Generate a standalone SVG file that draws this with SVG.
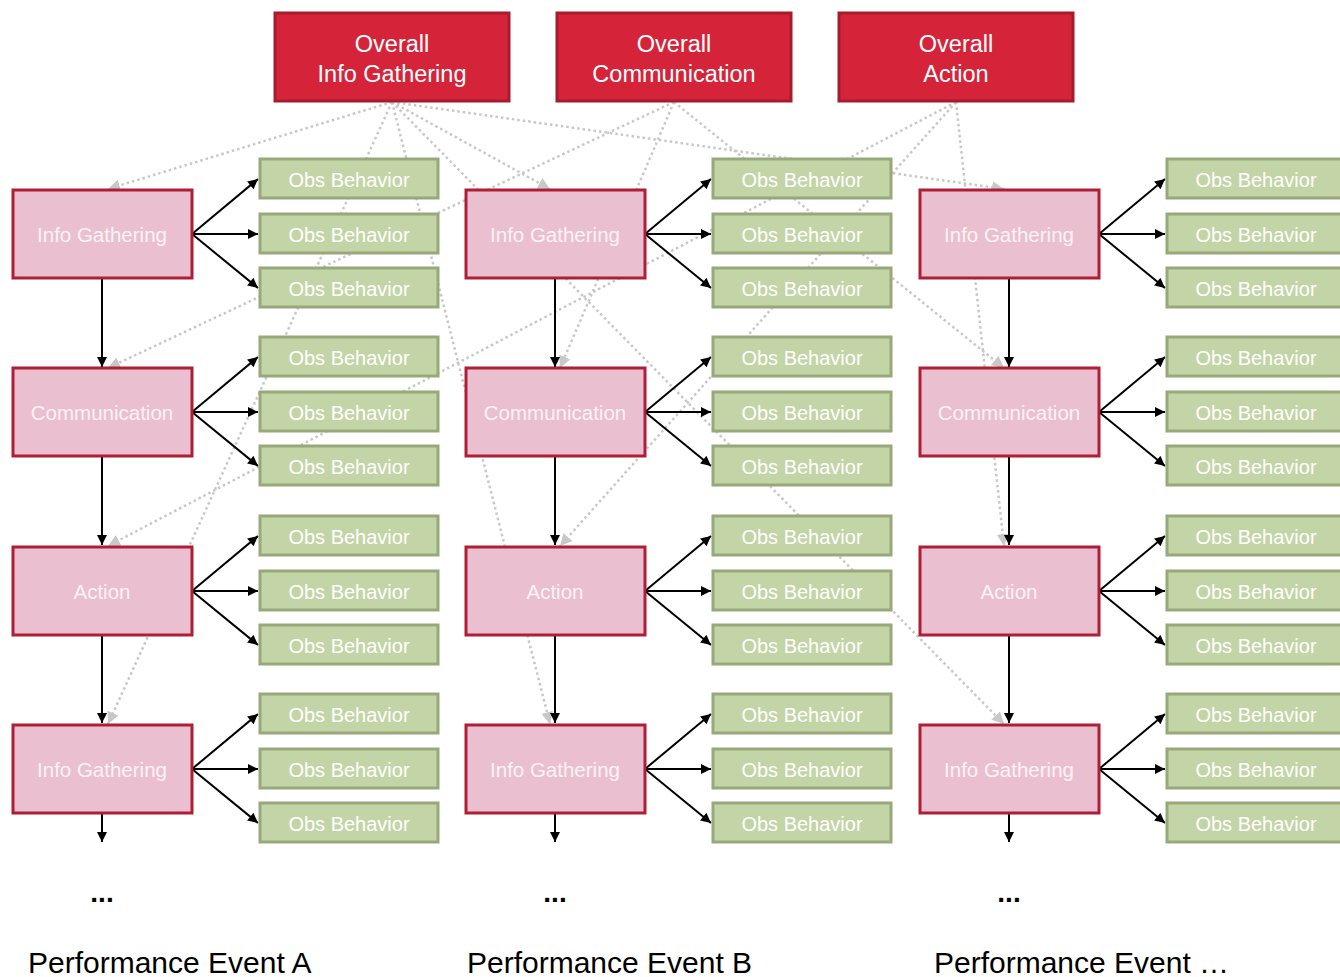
<svg xmlns="http://www.w3.org/2000/svg" width="1340" height="977" viewBox="0 0 1340 977">
<defs>
<style>
text{font-family:"Liberation Sans",Arial,sans-serif;text-anchor:middle}
.ov rect{fill:#d52439;stroke:#a81b2f;stroke-width:3}
.ov text{fill:#fff;font-size:23.5px}
.pk rect{fill:#eac0d0;stroke:#b01e35;stroke-width:3}
.pk text{fill:#fdf2f6;font-size:20.5px}
.gr rect{fill:#c3d5a6;stroke:#98a87a;stroke-width:3}
.gr text{fill:#fff;font-size:20px}
.dot{fill:none;stroke:#c8c8c8;stroke-width:2.5;stroke-dasharray:2.5 3;marker-end:url(#ga)}
.ar{fill:none;stroke:#000;stroke-width:2;marker-end:url(#ba)}
.lbl{fill:#000;font-size:30px;text-anchor:start}
.ell{fill:#000;font-size:28px;font-weight:bold}
</style>
<marker id="ga" viewBox="0 0 10 10" refX="10" refY="5" markerWidth="12" markerHeight="12" markerUnits="userSpaceOnUse" orient="auto"><path d="M0,0L10,5L0,10z" fill="#c8c8c8"/></marker>
<marker id="ba" viewBox="0 0 10 10" refX="10" refY="5" markerWidth="11" markerHeight="10" markerUnits="userSpaceOnUse" orient="auto"><path d="M0,0L10,5L0,10z" fill="#000"/></marker>
</defs>
<rect width="1340" height="977" fill="#fff"/>
<g id="connectors">
<path class="dot" d="M392,102L108,189"/>
<path class="dot" d="M392,102L550,189"/>
<path class="dot" d="M392,102L1004,189"/>
<path class="dot" d="M392,102L108,724"/>
<path class="dot" d="M392,102L550,724"/>
<path class="dot" d="M392,102L1004,724"/>
<path class="dot" d="M674,102L108,368"/>
<path class="dot" d="M674,102L560,368"/>
<path class="dot" d="M674,102L1004,368"/>
<path class="dot" d="M956,102L108,546"/>
<path class="dot" d="M956,102L560,546"/>
<path class="dot" d="M956,102L1004,546"/>
<path class="ar" d="M192,234L258,179"/><path class="ar" d="M192,234L258,234"/><path class="ar" d="M192,234L258,288"/>
<path class="ar" d="M192,412L258,357"/><path class="ar" d="M192,412L258,412"/><path class="ar" d="M192,412L258,466"/>
<path class="ar" d="M192,591L258,536"/><path class="ar" d="M192,591L258,591"/><path class="ar" d="M192,591L258,645"/>
<path class="ar" d="M192,769L258,714"/><path class="ar" d="M192,769L258,769"/><path class="ar" d="M192,769L258,823"/>
<path class="ar" d="M645,234L711,179"/><path class="ar" d="M645,234L711,234"/><path class="ar" d="M645,234L711,288"/>
<path class="ar" d="M645,412L711,357"/><path class="ar" d="M645,412L711,412"/><path class="ar" d="M645,412L711,466"/>
<path class="ar" d="M645,591L711,536"/><path class="ar" d="M645,591L711,591"/><path class="ar" d="M645,591L711,645"/>
<path class="ar" d="M645,769L711,714"/><path class="ar" d="M645,769L711,769"/><path class="ar" d="M645,769L711,823"/>
<path class="ar" d="M1099,234L1165,179"/><path class="ar" d="M1099,234L1165,234"/><path class="ar" d="M1099,234L1165,288"/>
<path class="ar" d="M1099,412L1165,357"/><path class="ar" d="M1099,412L1165,412"/><path class="ar" d="M1099,412L1165,466"/>
<path class="ar" d="M1099,591L1165,536"/><path class="ar" d="M1099,591L1165,591"/><path class="ar" d="M1099,591L1165,645"/>
<path class="ar" d="M1099,769L1165,714"/><path class="ar" d="M1099,769L1165,769"/><path class="ar" d="M1099,769L1165,823"/>
<path class="ar" d="M102,278L102,367"/><path class="ar" d="M102,457L102,545"/><path class="ar" d="M102,635L102,723"/><path class="ar" d="M102,813L102,842"/>
<path class="ar" d="M555,278L555,367"/><path class="ar" d="M555,457L555,545"/><path class="ar" d="M555,635L555,723"/><path class="ar" d="M555,813L555,842"/>
<path class="ar" d="M1009,278L1009,367"/><path class="ar" d="M1009,457L1009,545"/><path class="ar" d="M1009,635L1009,723"/><path class="ar" d="M1009,813L1009,842"/>
</g>
<g id="overall-info" class="ov"><rect x="275" y="13" width="234" height="88"/><text x="392" y="52">Overall</text><text x="392" y="82">Info Gathering</text></g>
<g id="overall-comm" class="ov"><rect x="557" y="13" width="234" height="88"/><text x="674" y="52">Overall</text><text x="674" y="82">Communication</text></g>
<g id="overall-action" class="ov"><rect x="839" y="13" width="234" height="88"/><text x="956" y="52">Overall</text><text x="956" y="82">Action</text></g>

<g id="a-info1" class="pk"><rect x="13" y="190" width="179" height="88"/><text x="102" y="242">Info Gathering</text></g>
<g id="a-comm" class="pk"><rect x="13" y="368" width="179" height="88"/><text x="102" y="420">Communication</text></g>
<g id="a-action" class="pk"><rect x="13" y="547" width="179" height="88"/><text x="102" y="599">Action</text></g>
<g id="a-info2" class="pk"><rect x="13" y="725" width="179" height="88"/><text x="102" y="777">Info Gathering</text></g>
<g id="b-info1" class="pk"><rect x="466" y="190" width="179" height="88"/><text x="555" y="242">Info Gathering</text></g>
<g id="b-comm" class="pk"><rect x="466" y="368" width="179" height="88"/><text x="555" y="420">Communication</text></g>
<g id="b-action" class="pk"><rect x="466" y="547" width="179" height="88"/><text x="555" y="599">Action</text></g>
<g id="b-info2" class="pk"><rect x="466" y="725" width="179" height="88"/><text x="555" y="777">Info Gathering</text></g>
<g id="c-info1" class="pk"><rect x="920" y="190" width="179" height="88"/><text x="1009" y="242">Info Gathering</text></g>
<g id="c-comm" class="pk"><rect x="920" y="368" width="179" height="88"/><text x="1009" y="420">Communication</text></g>
<g id="c-action" class="pk"><rect x="920" y="547" width="179" height="88"/><text x="1009" y="599">Action</text></g>
<g id="c-info2" class="pk"><rect x="920" y="725" width="179" height="88"/><text x="1009" y="777">Info Gathering</text></g>

<g id="a-obs1" class="gr"><rect x="260" y="159" width="178" height="39"/><text x="349" y="187">Obs Behavior</text></g>
<g id="a-obs2" class="gr"><rect x="260" y="214" width="178" height="39"/><text x="349" y="242">Obs Behavior</text></g>
<g id="a-obs3" class="gr"><rect x="260" y="268" width="178" height="39"/><text x="349" y="296">Obs Behavior</text></g>
<g id="a-obs4" class="gr"><rect x="260" y="337" width="178" height="39"/><text x="349" y="365">Obs Behavior</text></g>
<g id="a-obs5" class="gr"><rect x="260" y="392" width="178" height="39"/><text x="349" y="420">Obs Behavior</text></g>
<g id="a-obs6" class="gr"><rect x="260" y="446" width="178" height="39"/><text x="349" y="474">Obs Behavior</text></g>
<g id="a-obs7" class="gr"><rect x="260" y="516" width="178" height="39"/><text x="349" y="544">Obs Behavior</text></g>
<g id="a-obs8" class="gr"><rect x="260" y="571" width="178" height="39"/><text x="349" y="599">Obs Behavior</text></g>
<g id="a-obs9" class="gr"><rect x="260" y="625" width="178" height="39"/><text x="349" y="653">Obs Behavior</text></g>
<g id="a-obs10" class="gr"><rect x="260" y="694" width="178" height="39"/><text x="349" y="722">Obs Behavior</text></g>
<g id="a-obs11" class="gr"><rect x="260" y="749" width="178" height="39"/><text x="349" y="777">Obs Behavior</text></g>
<g id="a-obs12" class="gr"><rect x="260" y="803" width="178" height="39"/><text x="349" y="831">Obs Behavior</text></g>

<g id="b-obs1" class="gr"><rect x="713" y="159" width="178" height="39"/><text x="802" y="187">Obs Behavior</text></g>
<g id="b-obs2" class="gr"><rect x="713" y="214" width="178" height="39"/><text x="802" y="242">Obs Behavior</text></g>
<g id="b-obs3" class="gr"><rect x="713" y="268" width="178" height="39"/><text x="802" y="296">Obs Behavior</text></g>
<g id="b-obs4" class="gr"><rect x="713" y="337" width="178" height="39"/><text x="802" y="365">Obs Behavior</text></g>
<g id="b-obs5" class="gr"><rect x="713" y="392" width="178" height="39"/><text x="802" y="420">Obs Behavior</text></g>
<g id="b-obs6" class="gr"><rect x="713" y="446" width="178" height="39"/><text x="802" y="474">Obs Behavior</text></g>
<g id="b-obs7" class="gr"><rect x="713" y="516" width="178" height="39"/><text x="802" y="544">Obs Behavior</text></g>
<g id="b-obs8" class="gr"><rect x="713" y="571" width="178" height="39"/><text x="802" y="599">Obs Behavior</text></g>
<g id="b-obs9" class="gr"><rect x="713" y="625" width="178" height="39"/><text x="802" y="653">Obs Behavior</text></g>
<g id="b-obs10" class="gr"><rect x="713" y="694" width="178" height="39"/><text x="802" y="722">Obs Behavior</text></g>
<g id="b-obs11" class="gr"><rect x="713" y="749" width="178" height="39"/><text x="802" y="777">Obs Behavior</text></g>
<g id="b-obs12" class="gr"><rect x="713" y="803" width="178" height="39"/><text x="802" y="831">Obs Behavior</text></g>

<g id="c-obs1" class="gr"><rect x="1167" y="159" width="178" height="39"/><text x="1256" y="187">Obs Behavior</text></g>
<g id="c-obs2" class="gr"><rect x="1167" y="214" width="178" height="39"/><text x="1256" y="242">Obs Behavior</text></g>
<g id="c-obs3" class="gr"><rect x="1167" y="268" width="178" height="39"/><text x="1256" y="296">Obs Behavior</text></g>
<g id="c-obs4" class="gr"><rect x="1167" y="337" width="178" height="39"/><text x="1256" y="365">Obs Behavior</text></g>
<g id="c-obs5" class="gr"><rect x="1167" y="392" width="178" height="39"/><text x="1256" y="420">Obs Behavior</text></g>
<g id="c-obs6" class="gr"><rect x="1167" y="446" width="178" height="39"/><text x="1256" y="474">Obs Behavior</text></g>
<g id="c-obs7" class="gr"><rect x="1167" y="516" width="178" height="39"/><text x="1256" y="544">Obs Behavior</text></g>
<g id="c-obs8" class="gr"><rect x="1167" y="571" width="178" height="39"/><text x="1256" y="599">Obs Behavior</text></g>
<g id="c-obs9" class="gr"><rect x="1167" y="625" width="178" height="39"/><text x="1256" y="653">Obs Behavior</text></g>
<g id="c-obs10" class="gr"><rect x="1167" y="694" width="178" height="39"/><text x="1256" y="722">Obs Behavior</text></g>
<g id="c-obs11" class="gr"><rect x="1167" y="749" width="178" height="39"/><text x="1256" y="777">Obs Behavior</text></g>
<g id="c-obs12" class="gr"><rect x="1167" y="803" width="178" height="39"/><text x="1256" y="831">Obs Behavior</text></g>

<g id="labels">
<text class="ell" x="102" y="902">...</text>
<text class="ell" x="555" y="902">...</text>
<text class="ell" x="1009" y="902">...</text>
<text class="lbl" x="28" y="973">Performance Event A</text>
<text class="lbl" x="467" y="973">Performance Event B</text>
<text class="lbl" x="934" y="973">Performance Event …</text>
</g>
</svg>
